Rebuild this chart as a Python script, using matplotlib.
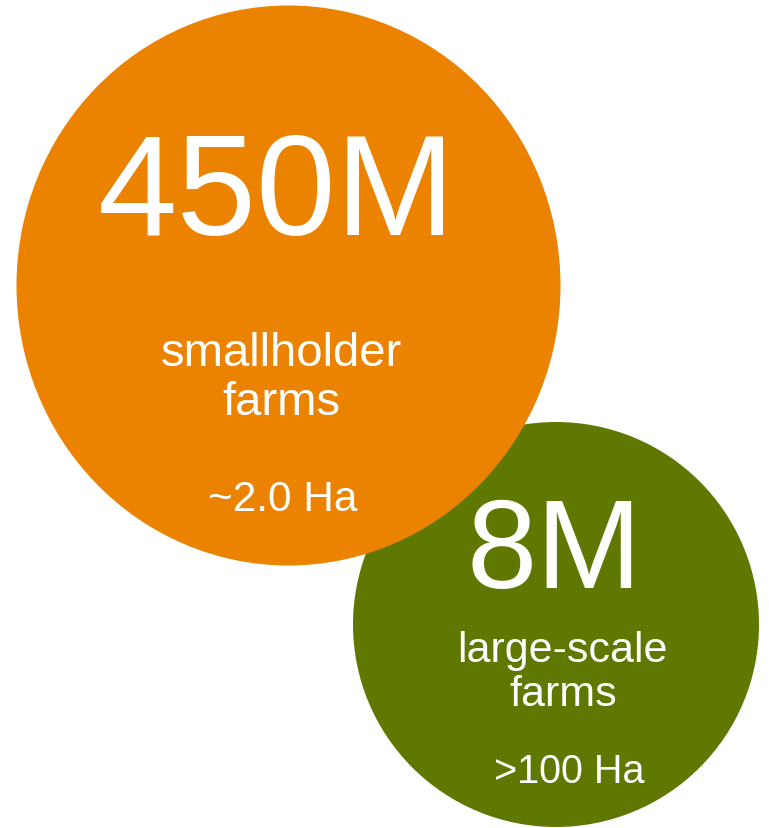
import matplotlib
matplotlib.use("Agg")
import matplotlib.pyplot as plt
from matplotlib.patches import Ellipse

plt.rcParams['font.family'] = ['Liberation Sans', 'DejaVu Sans']

# two groups of farms
counts = ["450M", "8M"]
kinds = ["smallholder", "large-scale"]
sizes = ["~2.0 Ha", ">100 Ha"]
colors = ["#EB8200", "#5F7800"]

# bubble geometry in pixels (x, y, width, height)
bubbles = [(288.5, 286.5, 544, 560), (556, 625.5, 406, 405)]

fig = plt.figure(figsize=(7.69, 8.29), dpi=100)
ax = fig.add_axes([0, 0, 1, 1])
ax.set_xlim(0, 769)
ax.set_ylim(829, 0)
ax.axis("off")

# green one is under the orange one
for i in [1, 0]:
    cx, cy, w, h = bubbles[i]
    ax.add_patch(Ellipse((cx, cy), w, h, color=colors[i], lw=0))

# big numbers
ax.text(277, 235, counts[0], color="white", fontsize=103, ha="center", va="baseline")
ax.text(554, 588, counts[1], color="white", fontsize=91, ha="center", va="baseline")

# descriptions
ax.text(281, 366, kinds[0], color="white", fontsize=34, ha="center", va="baseline")
ax.text(281, 415, "farms", color="white", fontsize=34, ha="center", va="baseline")
ax.text(283, 511, sizes[0], color="white", fontsize=30.5, ha="center", va="baseline")

ax.text(562, 662, kinds[1], color="white", fontsize=31, ha="center", va="baseline")
ax.text(563, 706, "farms", color="white", fontsize=31, ha="center", va="baseline")
ax.text(569, 783, sizes[1], color="white", fontsize=28.5, ha="center", va="baseline")

fig.savefig("out.png", dpi=100)
